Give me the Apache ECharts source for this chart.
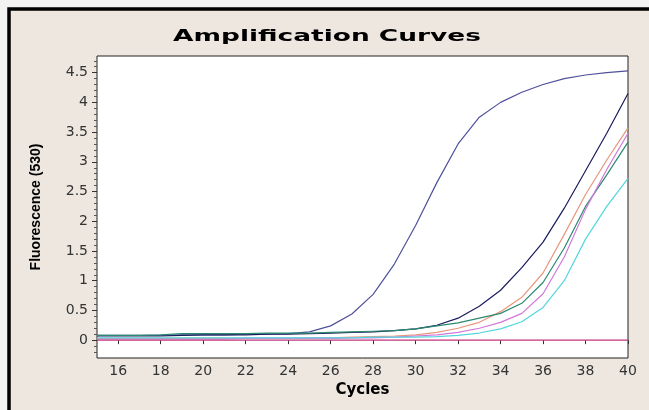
<!DOCTYPE html>
<html>
<head>
<meta charset="utf-8">
<script src="https://cdn.jsdelivr.net/npm/echarts@6/dist/echarts.min.js"></script>
<style>
html,body{margin:0;padding:0;background:#f2f2f2;}
#chart{width:649px;height:410px;}
</style>
</head>
<body>
<div id="chart"></div>
<script>
// ---- data ----
const cycles = [15,16,17,18,19,20,21,22,23,24,25,26,27,28,29,30,31,32,33,34,35,36,37,38,39,40];
const early   = [0.08,0.08,0.08,0.08,0.09,0.09,0.09,0.10,0.10,0.11,0.14,0.24,0.44,0.77,1.28,1.93,2.65,3.30,3.75,4.00,4.17,4.30,4.40,4.46,4.50,4.53];
const navy    = [0.07,0.07,0.07,0.07,0.08,0.09,0.09,0.09,0.10,0.10,0.11,0.12,0.13,0.14,0.16,0.19,0.25,0.37,0.57,0.84,1.22,1.65,2.22,2.85,3.48,4.15];
const salmon  = [0.03,0.03,0.03,0.03,0.03,0.03,0.03,0.03,0.03,0.03,0.04,0.04,0.05,0.06,0.07,0.09,0.13,0.20,0.30,0.48,0.72,1.13,1.78,2.45,3.03,3.57];
const teal    = [0.08,0.08,0.08,0.09,0.11,0.11,0.11,0.11,0.12,0.12,0.12,0.13,0.14,0.15,0.16,0.19,0.24,0.29,0.37,0.45,0.62,0.97,1.55,2.25,2.78,3.33];
const magenta = [0.02,0.02,0.02,0.02,0.02,0.02,0.02,0.03,0.03,0.03,0.03,0.03,0.04,0.04,0.05,0.07,0.09,0.13,0.20,0.30,0.45,0.78,1.40,2.20,2.87,3.48];
const cyan    = [0.04,0.04,0.04,0.04,0.04,0.04,0.04,0.04,0.04,0.04,0.04,0.04,0.04,0.05,0.05,0.05,0.06,0.08,0.12,0.19,0.31,0.55,1.00,1.70,2.25,2.72];
const blank   = [0,0,0,0,0,0,0,0,0,0,0,0,0,0,0,0,0,0,0,0,0,0,0,0,0,0];
const xTicks = [16,18,20,22,24,26,28,30,32,34,36,38,40];
const yTicks = [0,0.5,1,1.5,2,2.5,3,3.5,4,4.5];
const yMinorTicks = [-0.2,-0.1,0.1,0.2,0.3,0.4,0.6,0.7,0.8,0.9,1.1,1.2,1.3,1.4,1.6,1.7,1.8,1.9,2.1,2.2,2.3,2.4,2.6,2.7,2.8,2.9,3.1,3.2,3.3,3.4,3.6,3.7,3.8,3.9,4.1,4.2,4.3,4.4,4.6,4.7];
const titleText = 'Amplification Curves';

const seriesDefs = [
  {name:'S1', data: early,   color:'#50509c'},
  {name:'S2', data: navy,    color:'#1b1b5e'},
  {name:'S3', data: salmon,  color:'#e8977c'},
  {name:'S4', data: teal,    color:'#2a8a70'},
  {name:'S5', data: magenta, color:'#d278dc'},
  {name:'S6', data: cyan,    color:'#52d6de'},
  {name:'NTC', data: blank,  color:'#c2347a'}
];

const chart = echarts.init(document.getElementById('chart'), null, {renderer:'canvas'});
const YMIN = -0.3, YMAX = 4.78;
const option = {
  animation:false,
  backgroundColor:'#f2f2f2',
  graphic:[
    {type:'rect', z:-10, shape:{x:9,y:9,width:700,height:500}, style:{fill:'#ede7df', stroke:'#000', lineWidth:3.5}},
    {type:'text', x:327, y:37, scaleX:1.65, scaleY:1, z:10,
     style:{text:titleText, font:'bold 16px "DejaVu Sans"', fill:'#000', align:'center', verticalAlign:'middle'}}
  ],
  grid:{left:97, right:21, top:56, bottom:52, show:true, backgroundColor:'#fff', borderColor:'#222', borderWidth:1},
  xAxis:{
    type:'value', min:15, max:40,
    axisLine:{show:false},
    splitLine:{show:false},
    axisTick:{show:true, customValues:xTicks, length:4, lineStyle:{color:'#333'}},
    axisLabel:{customValues:xTicks, color:'#333', fontFamily:'DejaVu Sans', fontSize:14, margin:6},
    name:'Cycles', nameLocation:'middle', nameGap:25,
    nameTextStyle:{fontFamily:'DejaVu Sans', fontWeight:'bold', fontSize:15, color:'#000'}
  },
  yAxis:[{
    type:'value', min:YMIN, max:YMAX,
    axisLine:{show:false},
    splitLine:{show:false},
    axisTick:{show:true, customValues:yTicks, length:5, lineStyle:{color:'#333'}},
    axisLabel:{customValues:yTicks, color:'#333', fontFamily:'DejaVu Sans', fontSize:14, margin:9},
    name:'Fluorescence (530)', nameLocation:'middle', nameGap:54,
    nameTextStyle:{fontFamily:'"Liberation Sans Narrow", "Liberation Sans"', fontWeight:'bold', fontSize:14, color:'#000'}
  },{
    type:'value', min:YMIN, max:YMAX, position:'left',
    axisLine:{show:false}, splitLine:{show:false},
    axisTick:{show:true, customValues:yMinorTicks, length:3, lineStyle:{color:'#555'}},
    axisLabel:{show:false}
  }],
  series: seriesDefs.map(s => ({
    type:'line', name:s.name, showSymbol:false, symbol:'none',
    data: cycles.map((c,i)=>[c, s.data[i]]),
    lineStyle:{color:s.color, width:1.2},
    itemStyle:{color:s.color},
    z: s.name==='NTC' ? 5 : 2
  }))
};
chart.setOption(option);
</script>
</body>
</html>
